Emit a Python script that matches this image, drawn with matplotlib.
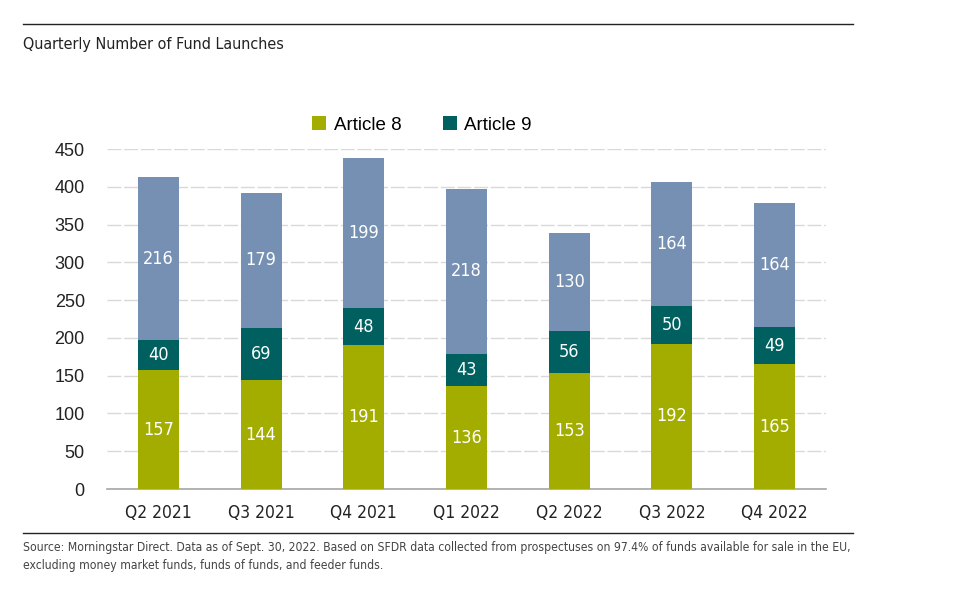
import matplotlib
matplotlib.use("Agg")
import matplotlib.pyplot as plt
from matplotlib import font_manager as fm
from matplotlib.lines import Line2D
import numpy as np

quarters = ["Q2 2021", "Q3 2021", "Q4 2021", "Q1 2022", "Q2 2022", "Q3 2022", "Q4 2022"]
article8 = [157, 144, 191, 136, 153, 192, 165]
article9 = [40, 69, 48, 43, 56, 50, 49]
other = [216, 179, 199, 218, 130, 164, 164]

c8 = "#A2AD00"
c9 = "#005F5F"
c_other = "#7590B3"

# look for a condensed face, the reference uses a narrow font
narrow_faces = [f for f in fm.fontManager.ttflist
                if "condensed" in f.fname.lower() or "narrow" in f.fname.lower()]
if narrow_faces:
    narrow_path = sorted(narrow_faces, key=lambda f: ("bold" in f.fname.lower(),
                                                       "oblique" in f.fname.lower() or "italic" in f.fname.lower()))[0].fname
    narrow = fm.FontProperties(fname=narrow_path)
else:
    narrow = fm.FontProperties(family="DejaVu Sans")
arial = ["Liberation Sans", "DejaVu Sans"]


def nf(size):
    p = narrow.copy()
    p.set_size(size)
    return p


fig = plt.figure(figsize=(9.55, 6.04), dpi=100)
ax = fig.add_axes([107 / 955, 1 - 489 / 604, 719 / 955, 340 / 604])

x = np.arange(len(quarters))
w = 0.4
b8 = ax.bar(x, article8, w, color=c8, label="Article 8", zorder=3)
b9 = ax.bar(x, article9, w, bottom=article8, color=c9, label="Article 9", zorder=3)
bottom_o = np.array(article8) + np.array(article9)
bo = ax.bar(x, other, w, bottom=bottom_o, color=c_other, zorder=3)

for bars in (b8, b9, bo):
    ax.bar_label(bars, label_type="center", color="white", fontproperties=nf(13))

ax.set_xlim(-0.5, len(quarters) - 0.5)
ax.set_ylim(0, 450)
ax.set_yticks(range(0, 451, 50))
ax.set_xticks(x)
ax.set_xticklabels(quarters, fontproperties=nf(12.5), color="#222222")
for lab in ax.get_yticklabels():
    lab.set_family(arial)
    lab.set_fontsize(13)
    lab.set_color("#222222")

ax.yaxis.grid(True, color="#D9D9D9", linewidth=1, linestyle=(0, (10, 2)), zorder=0)
ax.set_axisbelow(True)
for s in ("top", "right", "left"):
    ax.spines[s].set_visible(False)
ax.spines["bottom"].set_color("#A6A6A6")
ax.spines["bottom"].set_linewidth(1.2)
ax.tick_params(length=0)
ax.tick_params(axis="x", pad=11)
ax.tick_params(axis="y", pad=16)

fig.legend(handles=[b8, b9], loc="center", bbox_to_anchor=(422 / 955, 1 - 125 / 604),
           ncol=2, frameon=False, prop={"family": arial, "size": 13.5},
           handlelength=0.75, handleheight=0.75, handletextpad=0.4, columnspacing=2.2)

fig.add_artist(Line2D([23 / 955, 853 / 955], [1 - 24 / 604] * 2, color="#222222", lw=1))
fig.add_artist(Line2D([23 / 955, 853 / 955], [1 - 533 / 604] * 2, color="#222222", lw=1))

fig.text(23 / 955, 1 - 45 / 604, "Quarterly Number of Fund Launches",
         fontproperties=nf(11.5), color="#222222", va="center", ha="left")
src1 = fig.text(23 / 955, 1 - 548 / 604,
                "Source: Morningstar Direct. Data as of Sept. 30, 2022. Based on SFDR data collected "
                "from prospectuses on 97.4% of funds available for sale in the EU,",
                fontproperties=nf(10.5), color="#444444", va="center", ha="left")
src2 = fig.text(23 / 955, 1 - 566 / 604,
                "excluding money market funds, funds of funds, and feeder funds.",
                fontproperties=nf(10.5), color="#444444", va="center", ha="left")

# shrink the source note so its first line spans the same width as in the reference
fig.canvas.draw()
width = src1.get_window_extent().width
if width > 827:
    size = 10.5 * 827 / width
    src1.set_fontsize(size)
    src2.set_fontsize(size)

fig.savefig("out.png", dpi=100)
